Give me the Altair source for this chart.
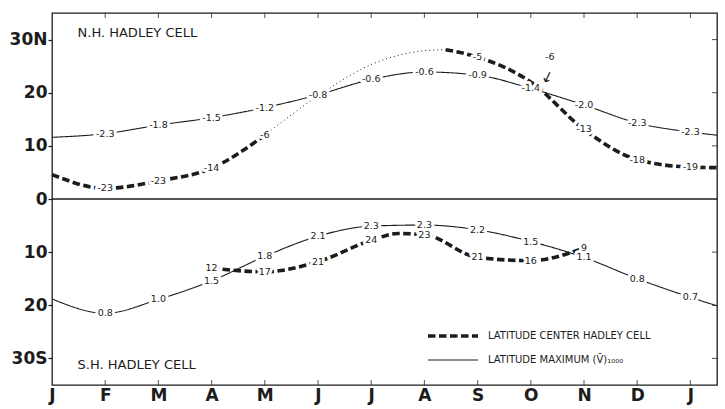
import json
import altair as alt
import pandas as pd

INK = "#1c1c1c"
FONT = "DejaVu Sans"

# ---------------- data ----------------
months = ["J", "F", "M", "A", "M", "J", "J", "A", "S", "O", "N", "D", "J"]
month_pos = list(range(13))

lat_ticks = [-30, -20, -10, 0, 10, 20, 30]

# Northern hemisphere: latitude of maximum mean meridional wind at 1000 mb
nh_max_x = [0, 1, 2, 3, 4, 5, 6, 7, 8, 9, 10, 11, 12, 12.5]
nh_max_lat = [11.6, 12.3, 13.9, 15.3, 17.2, 19.6, 22.5, 23.9, 23.3, 20.8, 17.7, 14.3, 12.6, 12.0]
nh_max_lbl_x = [1, 2, 3, 4, 5, 6, 7, 8, 9, 10, 11, 12]
nh_max_lbl = ["-2.3", "-1.8", "-1.5", "-1.2", "-0.8", "-0.6", "-0.6", "-0.9", "-1.4", "-2.0", "-2.3", "-2.3"]

# Northern hemisphere: latitude of the Hadley-cell centre
nh_ctr_a_x = [0, 1, 2, 3, 4]
nh_ctr_a_lat = [4.6, 2.0, 3.4, 5.8, 12.0]
nh_ctr_dot_x = [4, 5, 6, 7, 7.4]
nh_ctr_dot_lat = [12.0, 19.4, 25.3, 27.9, 28.1]
nh_ctr_b_x = [7.4, 8, 9, 10, 11, 12, 12.5]
nh_ctr_b_lat = [28.1, 26.7, 22.0, 13.1, 7.4, 6.0, 5.9]
nh_ctr_lbl_x = [1, 2, 3, 4, 8, 10, 11, 12]
nh_ctr_lbl = ["-23", "-23", "-14", "-6", "-5", "-13", "-18", "-19"]
nh_ctr_arrow_x = [9]
nh_ctr_arrow_lbl = ["-6"]

# Southern hemisphere (southern latitudes negative)
sh_max_x = [0, 1, 2, 3, 4, 5, 6, 7, 8, 9, 10, 11, 12, 12.5]
sh_max_lat = [-18.8, -21.5, -18.9, -15.4, -10.8, -7.0, -5.1, -4.9, -5.8, -8.0, -11.0, -15.0, -18.5, -20.1]
sh_max_lbl_x = [1, 2, 3, 4, 5, 6, 7, 8, 9, 10, 11, 12]
sh_max_lbl = ["0.8", "1.0", "1.5", "1.8", "2.1", "2.3", "2.3", "2.2", "1.5", "1.1", "0.8", "0.7"]

sh_ctr_x = [3, 4, 5, 6, 6.5, 7, 8, 9, 10]
sh_ctr_lat = [-13.0, -13.7, -11.8, -7.8, -6.5, -6.7, -11.0, -11.6, -9.2]
sh_ctr_lbl_x = [3, 4, 5, 6, 7, 8, 9, 10]
sh_ctr_lbl = ["12", "17", "21", "24", "23", "21", "16", "9"]

S_CTR = "LATITUDE CENTER HADLEY CELL"
S_MAX = "LATITUDE MAXIMUM (V\u0304)\u2081\u2080\u2080\u2080"

panel_titles = ["N.H. HADLEY CELL", "S.H. HADLEY CELL"]
panel_title_x = [0.48, 0.48]
panel_title_lat = [31.3, -31.3]

# ---------------- tables ----------------
def seg(xs, ys, series, sid):
    return pd.DataFrame({"x": xs, "y": ys, "s": series, "seg": sid})

lines = pd.concat([
    seg(nh_max_x, nh_max_lat, S_MAX, "nh_max"),
    seg(sh_max_x, sh_max_lat, S_MAX, "sh_max"),
    seg(nh_ctr_a_x, nh_ctr_a_lat, S_CTR, "nh_ca"),
    seg(nh_ctr_b_x, nh_ctr_b_lat, S_CTR, "nh_cb"),
    seg(sh_ctr_x, sh_ctr_lat, S_CTR, "sh_c"),
], ignore_index=True)

dotted = pd.DataFrame({"x": nh_ctr_dot_x, "y": nh_ctr_dot_lat})

def lookup(xs, ys, at):
    d = dict(zip(xs, ys))
    return [d[a] for a in at]

nh_ctr_all_x = nh_ctr_a_x + nh_ctr_b_x
nh_ctr_all_lat = nh_ctr_a_lat + nh_ctr_b_lat

labels = pd.concat([
    pd.DataFrame({"x": nh_max_lbl_x, "y": lookup(nh_max_x, nh_max_lat, nh_max_lbl_x), "t": nh_max_lbl}),
    pd.DataFrame({"x": sh_max_lbl_x, "y": lookup(sh_max_x, sh_max_lat, sh_max_lbl_x), "t": sh_max_lbl}),
    pd.DataFrame({"x": nh_ctr_lbl_x, "y": lookup(nh_ctr_all_x, nh_ctr_all_lat, nh_ctr_lbl_x), "t": nh_ctr_lbl}),
    pd.DataFrame({"x": sh_ctr_lbl_x, "y": lookup(sh_ctr_x, sh_ctr_lat, sh_ctr_lbl_x), "t": sh_ctr_lbl}),
], ignore_index=True)

arrow_lbl = pd.DataFrame({"x": nh_ctr_arrow_x,
                          "y": lookup(nh_ctr_all_x, nh_ctr_all_lat, nh_ctr_arrow_x),
                          "t": nh_ctr_arrow_lbl})

titles = pd.DataFrame({"x": panel_title_x, "y": panel_title_lat, "t": panel_titles})

top_ticks = pd.DataFrame({"x": month_pos[1:], "y": [35] * 12})
bot_ticks = pd.DataFrame({"x": month_pos[1:], "y": [-35] * 12})
right_ticks = pd.DataFrame({"x": [12.5] * 6, "y": [t for t in lat_ticks if t != 0]})
zero_line = pd.DataFrame({"y": [0]})

# ---------------- encodings ----------------
month_expr = json.dumps(months).replace('"', "'") + "[datum.value]"
lat_expr = ("datum.value == 30 ? '30N' : (datum.value == -30 ? '30S' : '' + abs(datum.value))")

X = alt.X("x:Q", title=None,
          scale=alt.Scale(domain=[0, 12.5], nice=False, zero=False),
          axis=alt.Axis(values=month_pos, labelExpr=month_expr, tickSize=0, domain=False,
                        grid=False, labelFont=FONT, labelFontSize=17, labelFontWeight="bold",
                        labelColor=INK, labelPadding=2, labelFlush=False))
Y = alt.Y("y:Q", title=None,
          scale=alt.Scale(domain=[-35, 35], nice=False, zero=False),
          axis=alt.Axis(values=lat_ticks, labelExpr=lat_expr, tickSize=4, tickColor=INK,
                        tickWidth=1.2, domain=False, grid=False, labelFont=FONT,
                        labelFontSize=17, labelFontWeight="bold", labelColor=INK,
                        labelPadding=1))

legend = alt.Legend(orient="none", legendX=394, legendY=316, title=None,
                    symbolType="M-5,0H5", symbolSize=100, symbolStrokeColor=INK,
                    labelFont=FONT, labelFontSize=10, labelColor=INK,
                    labelOffset=28, rowPadding=10, labelLimit=300)

zero = alt.Chart(zero_line).mark_rule(color=INK, strokeWidth=1.6).encode(y=Y)

main = alt.Chart(lines).mark_line(color=INK, interpolate="monotone").encode(
    x=X, y=Y, detail="seg:N",
    strokeDash=alt.StrokeDash("s:N",
        scale=alt.Scale(domain=[S_CTR, S_MAX], range=[[7.5, 3.5], [1, 0]]),
        legend=legend),
    strokeWidth=alt.StrokeWidth("s:N",
        scale=alt.Scale(domain=[S_CTR, S_MAX], range=[3.6, 1.1]),
        legend=legend),
)

dots = alt.Chart(dotted).mark_line(color=INK, interpolate="monotone", strokeWidth=1,
                                   strokeDash=[1, 3]).encode(x=X, y=Y)

halo = alt.Chart(labels).mark_text(font=FONT, fontSize=9.5, color="white", stroke="white",
                                   strokeWidth=6, strokeJoin="round").encode(x=X, y=Y, text="t:N")
txt = alt.Chart(labels).mark_text(font=FONT, fontSize=9.5, color=INK).encode(x=X, y=Y, text="t:N")

arrow_txt = alt.Chart(arrow_lbl).mark_text(font=FONT, fontSize=9.5, color=INK, dx=19, dy=-25).encode(
    x=X, y=Y, text="t:N")
arrow = alt.Chart(arrow_lbl).mark_text(font=FONT, fontSize=15, color=INK, dx=13, dy=-11,
                                       angle=25).encode(x=X, y=Y, text=alt.value("\u2193"))

title_txt = alt.Chart(titles).mark_text(font=FONT, fontSize=13, color=INK, align="left",
                                        baseline="middle").encode(x=X, y=Y, text="t:N")

tk_top = alt.Chart(top_ticks).mark_tick(color=INK, orient="vertical", size=10, thickness=1.1,
                                        clip=True).encode(x=X, y=Y)
tk_bot = alt.Chart(bot_ticks).mark_tick(color=INK, orient="vertical", size=10, thickness=1.1,
                                        clip=True).encode(x=X, y=Y)
tk_right = alt.Chart(right_ticks).mark_tick(color=INK, orient="horizontal", size=10,
                                            thickness=1.1, clip=True).encode(x=X, y=Y)

chart = alt.layer(
    zero, main, dots, halo, txt, arrow_txt, arrow, title_txt, tk_top, tk_bot, tk_right
).properties(
    width=665, height=372,
    autosize=alt.AutoSizeParams(type="none"),
    padding={"left": 52, "top": 13, "right": 8, "bottom": 24},
    background="white",
).configure_view(stroke=INK, strokeWidth=1.3)

chart.save("out.html", embed_options={"renderer": "svg", "actions": False})
